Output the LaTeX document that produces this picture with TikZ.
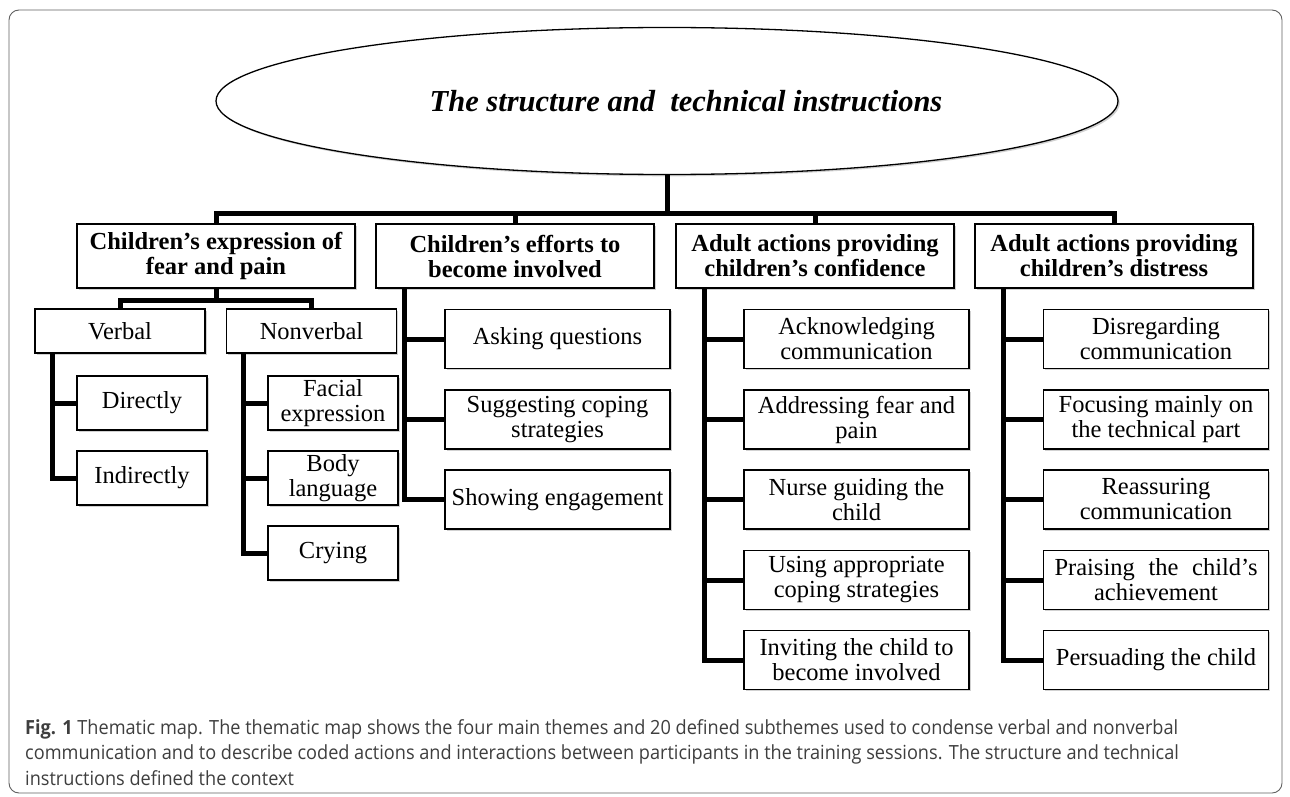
\documentclass[tikz,border=0pt]{standalone}
\usepackage{fontspec}
\setmainfont{Liberation Serif}
\newfontfamily\capfont[FakeStretch=0.93]{Open Sans}
\usepackage{tikz}
\usetikzlibrary{shapes.geometric}
\usetikzlibrary{shadows}
\usetikzlibrary{math}
\usetikzlibrary{calc}

\definecolor{framecol}{RGB}{95,95,95}
\definecolor{captcol}{RGB}{62,62,62}

\tikzset{
  boxshadow/.style={drop shadow={shadow xshift=1.8pt, shadow yshift=-1.8pt, opacity=0.18, fill=black}},
  ctxell/.style={ellipse, draw, line width=1.3pt, fill=white, boxshadow,
    minimum width=902pt, minimum height=147pt, inner sep=0pt,
    font=\fontsize{30.5}{36}\selectfont\bfseries\itshape},
  themebox/.style={draw, line width=1.3pt, fill=white, boxshadow, align=center,
    minimum width=278pt, minimum height=64pt, inner sep=1pt,
    font=\fontsize{24.5}{25}\selectfont\bfseries},
  midbox/.style={draw, line width=1.3pt, fill=white, boxshadow, align=center,
    minimum width=170pt, minimum height=44pt, inner sep=1pt,
    font=\fontsize{24.5}{25}\selectfont},
  leafbox/.style={midbox, minimum width=130pt, minimum height=54pt},
  widebox/.style={midbox, minimum width=225pt, minimum height=59pt},
  link/.style={line width=5pt, black},
  captext/.style={align=left, inner sep=0pt, text=captcol,
    font=\capfont\fontsize{19.5}{25.5}\selectfont}
}

\begin{document}
\begin{tikzpicture}[x=1pt, y=-1pt]

  \tikzmath{
    \drop  = 29; % indent of the lines below the themes
    \vdrop = 18; % indent of the lines below verbal and nonverbal
  }

  \useasboundingbox (0,0) rectangle (1290,797);

  % frame round the figure
  \draw[framecol, line width=0.9pt, rounded corners=10pt] (9,10) rectangle (1282,793);

  % context
  \node[ctxell] (ctx) at (667,101) {\hspace*{38pt}The structure and \ technical instructions};

  % the four themes
  \node[themebox] (t1) at (216,256) {Children’s expression of\\fear and pain};
  \node[themebox] (t2) at (515,256) {Children’s efforts to\\become involved};
  \node[themebox] (t3) at (815,256) {Adult actions providing\\children’s confidence};
  \node[themebox] (t4) at (1114,256) {Adult actions providing\\children’s distress};

  % main bus
  \coordinate (bus) at (667,213);
  \draw[link] (ctx.south) -- (bus);
  \draw[link] (t1.north) |- (bus) -| (t4.north);
  \draw[link] (t2.north) -- (t2.north |- bus);
  \draw[link] (t3.north) -- (t3.north |- bus);

  % first theme
  \node[midbox] (verbal) at (120,331) {Verbal};
  \node[midbox] (nonverbal) at (311.5,331) {Nonverbal};
  \draw[link] (t1.south) -- ++(0,12) coordinate (fork);
  \draw[link] (verbal.north) |- (fork) -| (nonverbal.north);

  \node[leafbox] (directly) at (142,403) {Directly};
  \node[leafbox] (indirectly) at (142,478) {Indirectly};
  \node[leafbox] (facial) at (333,403) {Facial\\expression};
  \node[leafbox] (body) at (333,478) {Body\\language};
  \node[leafbox] (crying) at (333,553) {Crying};

  \foreach \c in {directly,indirectly}
    \draw[link] ([xshift=\vdrop pt]verbal.south west) |- (\c.west);
  \foreach \c in {facial,body,crying}
    \draw[link] ([xshift=\vdrop pt]nonverbal.south west) |- (\c.west);

  % second theme
  \node[widebox] (asking) at (557.5,339) {Asking questions};
  \node[widebox] (suggesting) at (557.5,419.5) {Suggesting coping\\strategies};
  \node[widebox] (showing) at (557.5,499.5) {Showing engagement};

  \foreach \c in {asking,suggesting,showing}
    \draw[link] ([xshift=\drop pt]t2.south west) |- (\c.west);

  % third theme
  \node[widebox] (ack) at (856.5,339) {Acknowledging\\communication};
  \node[widebox] (addr) at (856.5,419.5) {Addressing fear and\\pain};
  \node[widebox] (nurse) at (856.5,499.5) {Nurse guiding the\\child};
  \node[widebox] (using) at (856.5,580) {Using appropriate\\coping strategies};
  \node[widebox] (inviting) at (856.5,660) {Inviting the child to\\become involved};

  \foreach \c in {ack,addr,nurse,using,inviting}
    \draw[link] ([xshift=\drop pt]t3.south west) |- (\c.west);

  % fourth theme
  \node[widebox] (disreg) at (1156,339) {Disregarding\\communication};
  \node[widebox] (focus) at (1156,419.5) {Focusing mainly on\\the technical part};
  \node[widebox] (reass) at (1156,499.5) {Reassuring\\communication};
  \node[widebox] (praise) at (1156,580) {\makebox[203pt][s]{Praising the child’s}\\achievement};
  \node[widebox] (persuade) at (1156,660) {Persuading the child};

  \foreach \c in {disreg,focus,reass,praise,persuade}
    \draw[link] ([xshift=\drop pt]t4.south west) |- (\c.west);

  % caption
  \node[captext, anchor=north west] (cap) at (25,719)
    {\textbf{Fig. 1} Thematic map. The thematic map shows the four main themes and 20 defined subthemes used to condense verbal and nonverbal\\
     communication and to describe coded actions and interactions between participants in the training sessions. The structure and technical\\
     instructions defined the context};

\end{tikzpicture}
\end{document}
